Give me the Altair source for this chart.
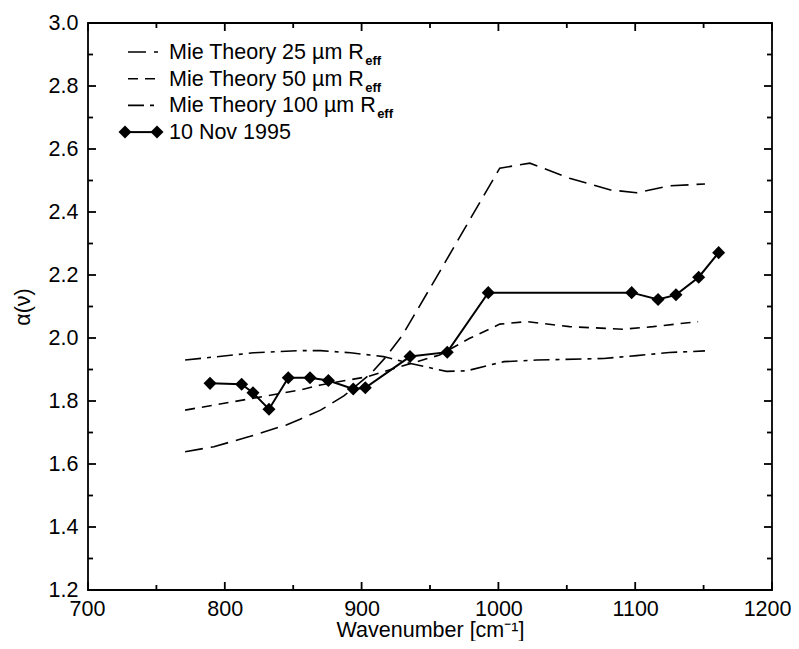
import altair as alt
import pandas as pd

# ---------------- data ----------------
obs_x = [789.2, 812.3, 820.6, 832.3, 846.4, 862.3, 875.7, 893.9, 902.7,
         935.4, 962.6, 992.6, 1097.4, 1116.7, 1129.8, 1146.4, 1161.0]
obs_y = [1.856, 1.853, 1.826, 1.774, 1.874, 1.874, 1.865, 1.838, 1.842,
         1.941, 1.955, 2.144, 2.144, 2.122, 2.137, 2.193, 2.271]

mie25_x = [771, 792, 818, 845, 855, 870, 887, 907, 918, 930, 955, 979,
           1001, 1023, 1052, 1082, 1101, 1125, 1151]
mie25_y = [1.639, 1.655, 1.687, 1.724, 1.742, 1.771, 1.816, 1.888, 1.941,
           2.010, 2.195, 2.375, 2.539, 2.555, 2.507, 2.470, 2.461, 2.483, 2.489]

mie50_x = [771, 821, 855, 870, 904, 928, 957, 979, 1001, 1021, 1052, 1091,
           1113, 1146]
mie50_y = [1.771, 1.809, 1.835, 1.851, 1.877, 1.909, 1.946, 1.999, 2.044,
           2.052, 2.036, 2.028, 2.036, 2.052]

mie100_x = [771, 821, 855, 870, 892, 906, 916, 935, 962, 977, 1004, 1028,
            1077, 1101, 1125, 1151]
mie100_y = [1.930, 1.953, 1.960, 1.960, 1.953, 1.946, 1.941, 1.920, 1.894,
            1.896, 1.925, 1.930, 1.935, 1.944, 1.954, 1.959]

x_domain = [700, 1200]
y_domain = [1.2, 3.0]
x_major = [700, 800, 900, 1000, 1100, 1200]
x_minor = [750, 850, 950, 1050, 1150]
y_major = [1.2, 1.4, 1.6, 1.8, 2.0, 2.2, 2.4, 2.6, 2.8, 3.0]
y_minor = [1.3, 1.5, 1.7, 1.9, 2.1, 2.3, 2.5, 2.7, 2.9]

legend_labels = ["Mie Theory 25 \u00b5m R", "Mie Theory 50 \u00b5m R",
                 "Mie Theory 100 \u00b5m R", "10 Nov 1995"]
legend_sub = ["eff", "eff", "eff", ""]

x_title = "Wavenumber [cm\u207b\u00b9]"
y_title = "\u03b1(\u03bd)"

# ---------------- layout ----------------
W, H = 684, 567
FONT = "Liberation Sans"
FS = 21.5

xs = alt.Scale(domain=x_domain, nice=False, zero=False)
ys = alt.Scale(domain=y_domain, nice=False, zero=False)
XA = alt.Axis(values=x_major, format="d", title=x_title, ticks=False,
              domain=False, grid=False, labelFlush=1, labelFlushOffset=19,
              labelBaseline="alphabetic", labelPadding=25,
              titleBaseline="alphabetic", titleY=46, titleAnchor="middle")
YA = alt.Axis(values=y_major, format=".1f", title=y_title, ticks=False,
              domain=False, grid=False, labelPadding=10, titlePadding=14)


def X(field):
    return alt.X(field, scale=xs, axis=XA)


def Y(field):
    return alt.Y(field, scale=ys, axis=YA)


dash25 = [18, 8]
dash50 = [10, 7]
dash100 = [16, 6, 4, 6]


def curve(xv, yv, dash):
    df = pd.DataFrame({"x": xv, "y": yv})
    return alt.Chart(df).mark_line(color="black", strokeWidth=1.6,
                                   strokeDash=dash).encode(x=X("x:Q"), y=Y("y:Q"))


def ticks(vals, side, length):
    df = pd.DataFrame({"v": vals})
    m = alt.Chart(df).mark_rule(color="black", strokeWidth=1.8)
    if side == "bottom":
        return m.encode(x=X("v:Q"), y=alt.value(H), y2=alt.value(H - length))
    if side == "top":
        return m.encode(x=X("v:Q"), y=alt.value(0), y2=alt.value(length))
    if side == "left":
        return m.encode(y=Y("v:Q"), x=alt.value(0), x2=alt.value(length))
    return m.encode(y=Y("v:Q"), x=alt.value(W), x2=alt.value(W - length))


layers = []
layers.append(curve(mie25_x, mie25_y, dash25))
layers.append(curve(mie50_x, mie50_y, dash50))
layers.append(curve(mie100_x, mie100_y, dash100))

obs_df = pd.DataFrame({"x": obs_x, "y": obs_y})
layers.append(alt.Chart(obs_df).mark_line(color="black", strokeWidth=2).encode(
    x=X("x:Q"), y=Y("y:Q")))
layers.append(alt.Chart(obs_df).mark_point(shape="diamond", filled=True,
                                           size=170, color="black", opacity=1).encode(
    x=X("x:Q"), y=Y("y:Q")))

for side in ["bottom", "top"]:
    layers.append(ticks(x_major, side, 8))
    layers.append(ticks(x_minor, side, 5))
for side in ["left", "right"]:
    layers.append(ticks(y_major, side, 8))
    layers.append(ticks(y_minor, side, 5))

# ---------------- legend (drawn manually) ----------------
CW = {"M": .833, "i": .222, "e": .556, " ": .278, "T": .611, "h": .556,
      "o": .556, "r": .333, "y": .5, "\u00b5": .576, "m": .833, "R": .722,
      "N": .722, "v": .5}


def text_width(s, fs):
    return sum(CW.get(c, .556) for c in s) * fs


dummy = pd.DataFrame({"a": [0]})
row_gap = 26.7
text_x = 81
base0 = 36
dashes = [dash25, dash50, dash100, None]
for i, lab in enumerate(legend_labels):
    by = base0 + i * row_gap
    ly = by - 7
    if dashes[i] is not None:
        layers.append(alt.Chart(dummy).mark_rule(color="black", strokeWidth=1.6,
                                                 strokeDash=dashes[i]).encode(
            x=alt.value(40), x2=alt.value(70), y=alt.value(ly)))
    else:
        layers.append(alt.Chart(dummy).mark_rule(color="black", strokeWidth=2).encode(
            x=alt.value(37), x2=alt.value(69), y=alt.value(ly)))
        for px in (37, 69):
            layers.append(alt.Chart(dummy).mark_point(shape="diamond", filled=True,
                                                      size=170, color="black",
                                                      opacity=1).encode(
                x=alt.value(px), y=alt.value(ly)))
    layers.append(alt.Chart(dummy).mark_text(text=lab, align="left",
                                             baseline="alphabetic", font=FONT,
                                             fontSize=FS, color="black").encode(
        x=alt.value(text_x), y=alt.value(by)))
    if legend_sub[i]:
        layers.append(alt.Chart(dummy).mark_text(text=legend_sub[i], align="left",
                                                 baseline="alphabetic", font=FONT,
                                                 fontSize=13, fontWeight="bold",
                                                 color="black").encode(
            x=alt.value(text_x + text_width(lab, FS) + 1), y=alt.value(by + 6)))

chart = alt.layer(*layers).properties(
    width=W, height=H,
    autosize=alt.AutoSizeParams(type="none"),
    padding={"left": 80, "top": 15, "right": 19, "bottom": 51},
).configure_view(stroke="black", strokeWidth=1.8).configure_axis(
    labelFont=FONT, titleFont=FONT, labelFontSize=FS, titleFontSize=FS,
    labelColor="black", titleColor="black", titleFontWeight="normal",
)

chart.save("out.html", embed_options={"renderer": "svg", "actions": False})
